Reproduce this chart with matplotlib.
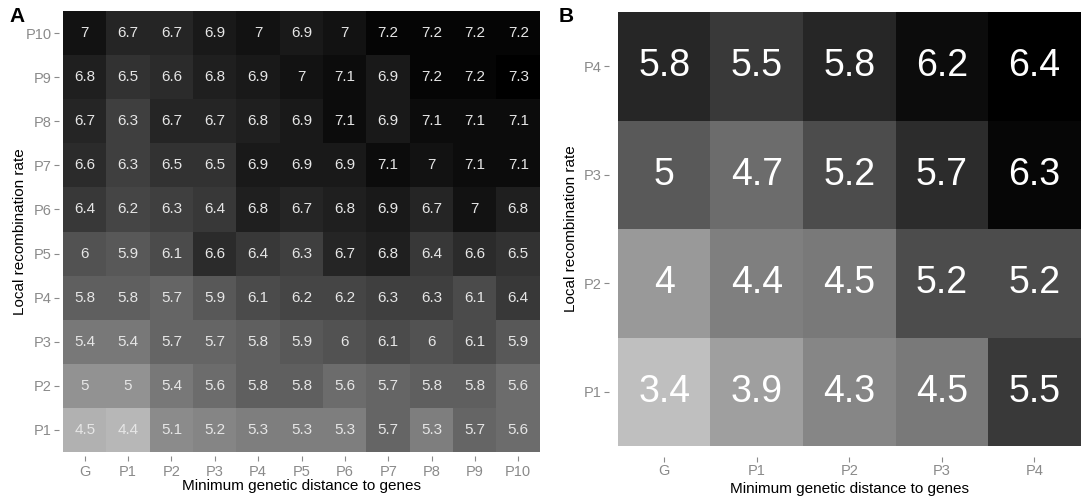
import numpy as np
import matplotlib
matplotlib.use('Agg')
import matplotlib.pyplot as plt
from matplotlib.colors import LinearSegmentedColormap

plt.rcParams['font.family'] = ['Liberation Sans', 'DejaVu Sans']

# Panel A data (rows P1..P10 bottom to top, cols G, P1..P10)
cols_a = ['G', 'P1', 'P2', 'P3', 'P4', 'P5', 'P6', 'P7', 'P8', 'P9', 'P10']
rows_a = ['P1', 'P2', 'P3', 'P4', 'P5', 'P6', 'P7', 'P8', 'P9', 'P10']
vals_a = [
    [4.5, 4.4, 5.1, 5.2, 5.3, 5.3, 5.3, 5.7, 5.3, 5.7, 5.6],
    [5.0, 5.0, 5.4, 5.6, 5.8, 5.8, 5.6, 5.7, 5.8, 5.8, 5.6],
    [5.4, 5.4, 5.7, 5.7, 5.8, 5.9, 6.0, 6.1, 6.0, 6.1, 5.9],
    [5.8, 5.8, 5.7, 5.9, 6.1, 6.2, 6.2, 6.3, 6.3, 6.1, 6.4],
    [6.0, 5.9, 6.1, 6.6, 6.4, 6.3, 6.7, 6.8, 6.4, 6.6, 6.5],
    [6.4, 6.2, 6.3, 6.4, 6.8, 6.7, 6.8, 6.9, 6.7, 7.0, 6.8],
    [6.6, 6.3, 6.5, 6.5, 6.9, 6.9, 6.9, 7.1, 7.0, 7.1, 7.1],
    [6.7, 6.3, 6.7, 6.7, 6.8, 6.9, 7.1, 6.9, 7.1, 7.1, 7.1],
    [6.8, 6.5, 6.6, 6.8, 6.9, 7.0, 7.1, 6.9, 7.2, 7.2, 7.3],
    [7.0, 6.7, 6.7, 6.9, 7.0, 6.9, 7.0, 7.2, 7.2, 7.2, 7.2],
]

# Panel B data
cols_b = ['G', 'P1', 'P2', 'P3', 'P4']
rows_b = ['P1', 'P2', 'P3', 'P4']
vals_b = [
    [3.4, 3.9, 4.3, 4.5, 5.5],
    [4.0, 4.4, 4.5, 5.2, 5.2],
    [5.0, 4.7, 5.2, 5.7, 6.3],
    [5.8, 5.5, 5.8, 6.2, 6.4],
]

xlabel = 'Minimum genetic distance to genes'
ylabel = 'Local recombination rate'

W, H = 1081, 500
fig = plt.figure(figsize=(W / 100, H / 100), dpi=100)


def px_axes(x0, x1, y0, y1):
    # axes box in pixel coords (top-left origin)
    return fig.add_axes([x0 / W, 1 - y1 / H, (x1 - x0) / W, (y1 - y0) / H])


# panel boxes include ggplot-like 0.1 cell expansion around the tiles
ax_a = px_axes(58.7, 544.3, 6.6, 456.4)
ax_b = px_axes(608.7, 1090.0, 1.2, 456.8)


def draw_heat(ax, vals, cols, rows, light, txt_size, txt_color, xpad, xlpad):
    data = np.array(vals)
    cmap = LinearSegmentedColormap.from_list('g', [(light, light, light), (0, 0, 0)])
    ax.imshow(data, cmap=cmap, origin='lower', aspect='auto',
              vmin=data.min(), vmax=data.max(), interpolation='nearest')
    for i in range(data.shape[0]):
        for j in range(data.shape[1]):
            ax.text(j, i, f'{data[i, j]:g}', ha='center', va='center',
                    color=txt_color, fontsize=txt_size)
    ax.set_xlim(-0.6, len(cols) - 0.4)
    ax.set_ylim(-0.6, len(rows) - 0.4)
    ax.set_xticks(range(len(cols)))
    ax.set_xticklabels(cols)
    ax.set_yticks(range(len(rows)))
    ax.set_yticklabels(rows)
    for sp in ax.spines.values():
        sp.set_visible(False)
    ax.tick_params(axis='both', colors='#8a8a8a', labelsize=10.5, length=3.5,
                   width=0.8, pad=1.5)
    ax.tick_params(axis='x', pad=xpad)
    ax.set_xlabel(xlabel, fontsize=11, labelpad=xlpad)
    ax.set_ylabel(ylabel, fontsize=11)


draw_heat(ax_a, vals_a, cols_a, rows_a, 0.72, 11, '#e6e6e6', 2.5, 0)
draw_heat(ax_b, vals_b, cols_b, rows_b, 0.75, 27, 'white', 1.5, 3)
ax_a.yaxis.set_label_coords(-0.066, 0.5)
ax_b.yaxis.set_label_coords(-0.063, 0.5)

fig.text(0.009, 0.955, 'A', fontsize=15, fontweight='bold')
fig.text(0.517, 0.955, 'B', fontsize=15, fontweight='bold')

fig.savefig('out.png', dpi=100)
